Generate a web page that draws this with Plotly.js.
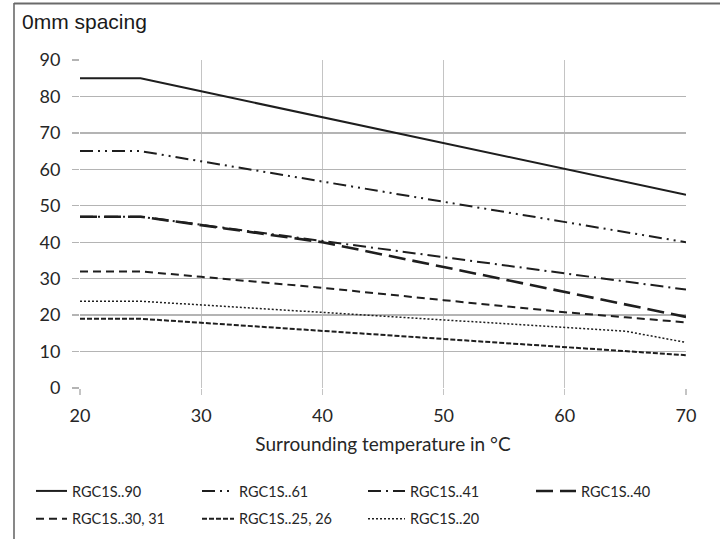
<!DOCTYPE html>
<html>
<head>
<meta charset="utf-8">
<script src="https://cdn.plot.ly/plotly-3.0.1.min.js"></script>
<style>html,body{margin:0;padding:0;background:#fff;}#chart{width:720px;height:539px;}</style>
</head>
<body>
<div id="chart"></div>
<script>
const temps = [20, 25, 30, 40, 50, 60, 65, 70];
const names = ["RGC1S..90", "RGC1S..61", "RGC1S..41", "RGC1S..40", "RGC1S..30, 31", "RGC1S..25, 26", "RGC1S..20"];
const s90 = [85, 85, 81.4, 74.3, 67.2, 60.1, 56.6, 53];
const s61 = [65, 65, 62.2, 56.7, 51.1, 45.6, 42.8, 40];
const s41 = [47, 47, 44.8, 40.3, 35.9, 31.4, 29.2, 27];
const s40 = [47, 47, 44.7, 40, 33.2, 26.3, 22.9, 19.5];
const s30 = [32, 32, 30.5, 27.5, 24.1, 20.8, 19.4, 18];
const s25 = [19, 19, 17.9, 15.7, 13.4, 11.2, 10.1, 9];
const s20 = [23.8, 23.8, 22.8, 20.8, 18.7, 16.6, 15.6, 12.5];
const yTicks = [0, 10, 20, 30, 40, 50, 60, 70, 80, 90];
const xTicks = [20, 30, 40, 50, 60, 70];

const series = [s90, s61, s41, s40, s30, s25, s20];
const styles = [
  {dash: "solid", width: 2},
  {dash: "13px,5px,2px,5px,2px,5px", width: 2},
  {dash: "13px,5px,2px,5px", width: 2},
  {dash: "17px,7px", width: 2.6},
  {dash: "8px,5px", width: 2},
  {dash: "5px,2px", width: 2},
  {dash: "2px,2px", width: 1.5}
];
// legend column of each series (4 columns, two rows)
const legendOf = ["legend", "legend2", "legend3", "legend4", "legend", "legend2", "legend3"];
const lineColor = "#1e1e1e";

const traces = series.map((s, i) => ({
  x: temps, y: s, name: names[i], type: "scatter", mode: "lines",
  line: {color: lineColor, width: styles[i].width, dash: styles[i].dash},
  legend: legendOf[i], legendgroup: "g" + i
}));

const font = "Lato, 'Open Sans', sans-serif";
const legTop = (388 - 475) / 328;
function leg(px, iw) {
  return {
    orientation: "v", xanchor: "left", yanchor: "top",
    x: (px - 80) / 606, y: legTop,
    font: {family: font, size: 14.5, color: "#262626"},
    bgcolor: "rgba(0,0,0,0)", borderwidth: 0, itemwidth: iw, tracegroupgap: 6
  };
}

const layout = {
  width: 720, height: 539,
  margin: {l: 80, r: 34, t: 60, b: 151, autoexpand: false},
  paper_bgcolor: "#fff", plot_bgcolor: "#fff",
  showlegend: true,
  title: {text: "0mm spacing", xref: "container", yref: "container", x: 22/720, xanchor: "left", y: 1 - 22/539, yanchor: "middle",
          font: {family: "'Liberation Sans', Arial, sans-serif", size: 21, color: "#1a1a1a"}},
  xaxis: {
    range: [20, 70], tickvals: xTicks, ticktext: xTicks.map(String),
    showgrid: true, gridcolor: "#c4c4c4", gridwidth: 1.3,
    zeroline: false, showline: false,
    ticks: "outside", ticklen: 6, tickcolor: "#c4c4c4", tickwidth: 1.3,
    ticklabelstandoff: 5,
    tickfont: {family: font, size: 18, color: "#262626"},
    title: {text: "Surrounding temperature in °C", standoff: 13, font: {family: font, size: 19, color: "#262626"}}
  },
  yaxis: {
    range: [0, 90], tickvals: yTicks, ticktext: yTicks.map(String),
    showgrid: true, gridcolor: "#b4b4b4", gridwidth: 1.3,
    zeroline: false, showline: false,
    ticks: "outside", ticklen: 7, tickcolor: "#b4b4b4", tickwidth: 1.3,
    ticklabelstandoff: 8,
    tickfont: {family: font, size: 18, color: "#262626"}
  },
  legend: leg(31, 31),
  legend2: leg(197, 32),
  legend3: leg(363, 37),
  legend4: leg(531, 40),
  shapes: [
    {type: "line", xref: "paper", yref: "paper", x0: (14 - 80) / 606, x1: (720 - 80) / 606, y0: (388 - 3.5) / 328, y1: (388 - 3.5) / 328,
     line: {color: "#6a6a6a", width: 2.2}},
    {type: "line", xref: "paper", yref: "paper", x0: (14 - 80) / 606, x1: (14 - 80) / 606, y0: (388 - 3) / 328, y1: (388 - 539) / 328,
     line: {color: "#6a6a6a", width: 1.6}}
  ]
};

Plotly.newPlot("chart", traces, layout, {displayModeBar: false, staticPlot: true});
</script>
</body>
</html>
